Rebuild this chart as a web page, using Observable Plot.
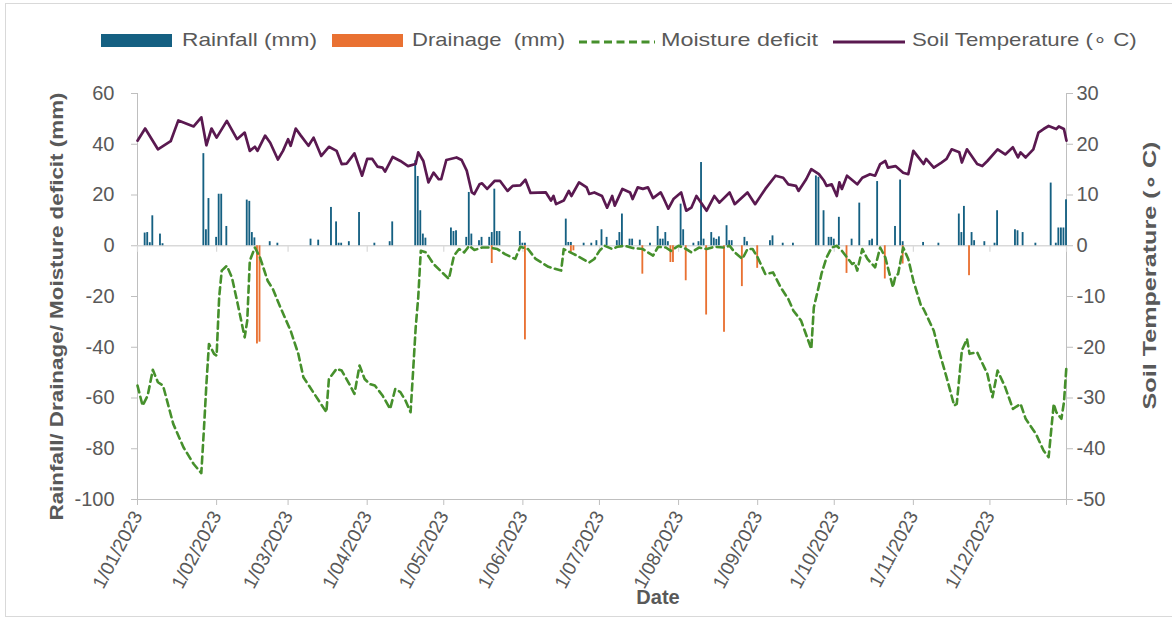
<!DOCTYPE html>
<html>
<head>
<meta charset="utf-8">
<script src="https://cdn.jsdelivr.net/npm/d3@7"></script>
<script src="https://cdn.jsdelivr.net/npm/@observablehq/plot@0.6"></script>
<style>
  html, body { margin: 0; padding: 0; background: #fff; overflow: hidden; }
  #wrap { position: relative; width: 1172px; height: 621px; overflow: hidden; }
  #frame { position: absolute; left: 5px; top: 3px; width: 1180px; height: 612px; border: 1px solid #d9d9d9; pointer-events: none; }
  .leg { position: absolute; font-family: "Liberation Sans", Arial, sans-serif; font-size: 19px; color: #595959; white-space: pre; line-height: 1; transform-origin: 0 50%; }
  .sw { position: absolute; }
</style>
</head>
<body>
<div id="wrap"><div id="frame"></div></div>
<script>
// ---- data (day offset from 1 Jan 2023, value) ----
const rainDay = [3,4,5,6,9,10,26,27,28,31,32,33,35,43,44,45,46,52,55,68,71,76,78,79,80,83,87,
  93,99,100,109,110,111,112,113,123,124,125,129,130,131,134,135,138,139,140,141,142,150,151,152,
  168,169,170,175,178,180,182,184,188,189,190,193,194,197,201,204,205,206,207,208,213,214,218,220,221,222,
  225,226,227,228,231,232,233,238,239,248,249,253,257,266,267,269,271,272,273,275,280,283,287,288,290,
  297,299,300,308,314,322,323,324,327,328,332,336,337,344,345,347,352,358,360,361,362,363,364];
const rainMm = [5,5.2,1.2,11.8,4.6,0.8,36.3,6.3,18.6,3.3,20.3,20.3,7.6,18,17.5,5.2,3.1,1.6,1,2.6,2.2,15.1,9.4,1,1,1.6,13.1,
  1,1.6,9.4,33.5,27.3,13.8,4.6,3,7,5.6,5.9,3.3,21,4.6,2,3.3,3.3,5.2,22.3,5.6,5.6,5.6,1,1,
  10.5,1.3,1.3,1,1,2,6.3,3.3,2,5.2,12.5,2.6,2.6,2.2,1,7.6,2.6,2.6,5.2,1.6,16.4,6.3,1,1.6,32.8,2.6,
  5.2,3,2.5,3.5,7.9,2,2,3.3,1.6,2,3.9,1,1,27.5,27,13.8,3.3,3.3,2.6,11.2,2.6,16.8,2,2.6,25.3,
  7.6,25.9,1.6,1.3,1,12.5,5.2,15.5,5.2,2,1.6,1,13.8,6.3,5.9,5.2,1,24.7,1,7,7,7,18.1];

const drainDay = [47,48,139,152,170,171,198,209,210,215,223,230,237,243,278,293,300,326];
const drainMm = [-38.7,-38,-7,-37.1,-2.6,-2,-11.2,-6.6,-6.6,-13.8,-27.3,-34.1,-16.1,-8.9,-10.9,-13.1,-7.2,-11.8];

const moistDay = [0,2,4,6,8,10,14,18,22,25,26,27,28,30,31,32,33,35,37,39,42,43,44,46,48,51,53,56,60,63,65,71,74,75,78,80,83,85,87,
  89,91,93,96,99,101,103,105,107,108,109,110,111,113,116,122,124,126,128,130,132,135,138,141,144,148,150,153,156,161,166,167,171,
  177,179,181,183,186,188,191,194,198,202,204,207,209,212,215,217,220,223,226,230,232,234,237,239,241,243,246,249,252,255,257,260,
  264,265,267,268,270,272,274,276,278,280,281,282,284,286,289,291,293,296,297,298,300,302,304,307,308,312,314,317,320,321,323,325,
  326,329,333,335,337,340,343,346,348,352,355,357,359,360,362,363,364];
const moistMm = [-55.1,-63,-59,-48.9,-53.8,-55.1,-70.2,-79.4,-86,-89.6,-72.8,-54.5,-38.7,-42.6,-43.3,-20.3,-9.8,-7.9,-12.5,-21.7,-36.1,-29.5,-5.9,-0.7,-4.6,-13.8,-17,-24.3,-33.5,-42.6,-51.8,-61,-65.6,-52.5,-48.5,-49.2,-54.5,-58.4,-47.2,
  -52.5,-54.5,-55.1,-59,-64.3,-56.4,-57.7,-61,-65.6,-49.2,-32.2,-20.3,-2,-2.6,-7.2,-13.1,-3.9,-1.3,-2.6,0,-1.7,-0.7,-0.7,-1.3,-3.3,-5.2,-0.4,-1.3,-5.2,-8.3,-9.8,-1.3,-3.3,
  -6.6,-5.2,-2,0,-1.3,-0.4,0,-0.9,-1.3,-3.9,-0.4,-0.7,-2,0,-1.3,-2.6,-0.7,-1.3,-0.4,-0.7,0,-2.6,-5.2,-1.3,-1.3,-4.6,-11.2,-10.5,-16.4,-21,-25.6,-29.5,
  -40.7,-24.3,-15.7,-11,-4.6,-0.7,0,-2,-4.6,-7.2,-6.6,-9.8,-1.3,-5.2,-8.5,-0.7,-4.6,-16.4,-11.8,-11.2,-0.7,-5.2,-13.8,-23.6,-24.9,-33.5,-41.3,-51.8,-63,-62.3,-41.3,-36.7,
  -42.6,-42,-50.5,-59.7,-49.2,-55.8,-64.3,-62.3,-68.2,-74.1,-80.7,-83.3,-62.3,-65.6,-68.2,-61.7,-47.2];

const tempDay = [0,3,8,13,16,22,25,27,29,31,35,39,42,44,46,47,50,52,55,57,59,60,62,64,67,69,72,75,78,80,82,85,88,90,92,94,96,97,
  100,103,106,109,110,112,114,116,118,119,121,125,127,129,131,132,134,135,137,140,142,145,147,150,152,154,160,162,163,164,167,169,170,
  173,176,177,179,182,184,186,187,190,193,194,196,198,200,202,205,206,208,210,213,215,217,219,223,226,228,232,234,239,242,246,250,253,
  255,258,259,262,264,267,269,270,272,274,275,276,278,282,284,287,289,291,293,294,297,300,302,304,306,308,309,312,315,317,319,322,323,
  325,329,331,333,337,340,343,345,346,348,351,353,355,357,360,361,363,364];
const tempC = [20.7,23.1,19,20.6,24.7,23.5,25.3,19.8,23.1,21.3,24.6,21,22.3,18.7,19.5,18.7,21.7,20.3,17,18.7,21,19.7,23.1,21.7,19.7,21.3,17.7,19.5,18.7,16.1,16.2,18.2,13.8,17.1,17.1,15.6,15.4,14.6,
  17.5,16.7,15.7,16.1,18.4,16.7,12.5,14.4,13.1,13.1,16.9,17.4,16.9,14.8,10.5,10.2,12.1,12.3,11.2,12.8,12.8,10.8,11.8,11.9,13,10.4,10.5,8.9,9.8,8.2,8.9,10.8,9.8,
  12.5,11.5,10.2,10.5,9.8,7.5,9.8,7.9,11.2,10.5,9.2,11.5,11.2,11.5,9.4,10.5,9.5,7.3,9.2,10.5,6.9,7.5,9.8,6.9,9.8,8.5,10.5,8.2,10.5,8.2,11.2,13.8,13.4,
  12.1,11.8,10.8,13.1,15.1,14.1,12.8,11.8,12.1,9.8,12.5,11.2,13.8,12.1,13.4,14.1,13.8,16.1,16.7,15.4,15.7,14.4,14.1,18.7,17.4,16.1,17.1,15.4,16.4,17.1,19,18.4,16.4,
  19,16.1,15.7,16.7,19,18,19.4,17.4,18.4,17.4,19,22.3,23,23.6,23,23.5,23,20.7];

const xTickLabels = ["1/01/2023","1/02/2023","1/03/2023","1/04/2023","1/05/2023","1/06/2023",
  "1/07/2023","1/08/2023","1/09/2023","1/10/2023","1/11/2023","1/12/2023"];
const yLeftTicks = [-100,-80,-60,-40,-20,0,20,40,60];
const seriesNames = ["Rainfall (mm)", "Drainage  (mm)", "Moisture deficit", "Soil Temperature (\u2218 C)"];
const axisTitles = {left: "Rainfall/ Drainage/ Moisture deficit (mm)", right: "Soil Temperature (\u2218 C)", x: "Date"};
const colors = {rain: "#156082", drain: "#E97132", moist: "#46902c", temp: "#5a1950"};

// ---- helpers ----
const DAY = 864e5;
const t0 = Date.UTC(2023, 0, 1);
const dayToDate = d => new Date(t0 + d * DAY);
const parseLabel = s => { const [d, m, y] = s.split("/").map(Number); return new Date(Date.UTC(y, m - 1, d)); };
const tickDates = xTickLabels.map(parseLabel);
const xEnd = dayToDate(364);
const fmt = new Map(tickDates.map((d, i) => [+d, xTickLabels[i]]));

const rain = rainDay.map((d, i) => ({x1: dayToDate(d - 0.36), x2: dayToDate(d + 0.36), v: rainMm[i]}));
const drain = drainDay.map((d, i) => ({x1: dayToDate(d - 0.36), x2: dayToDate(d + 0.36), v: drainMm[i]}));
const moist = moistDay.map((d, i) => ({x: dayToDate(d), v: moistMm[i]}));
const temp = tempDay.map((d, i) => ({x: dayToDate(d), v: tempC[i]}));

const axisGray = "#bfbfbf";
const textGray = "#595959";

const chart = Plot.plot({
  width: 1172,
  height: 621,
  marginLeft: 137,
  marginRight: 106,
  marginTop: 93,
  marginBottom: 122,
  style: {fontFamily: "'Liberation Sans', Arial, sans-serif", fontSize: "16px", color: textGray, background: "transparent"},
  x: {type: "utc", domain: [dayToDate(0), xEnd]},
  y: {domain: [-100, 60]},
  marks: [
    Plot.ruleY([0], {stroke: "#d9d9d9", strokeWidth: 1.5}),
    Plot.ruleY([-100], {stroke: axisGray, strokeWidth: 1}),
    Plot.ruleX([dayToDate(0), xEnd], {stroke: axisGray, strokeWidth: 1}),
    Plot.ruleX([...tickDates, xEnd], {y1: 0, y2: -2.6, stroke: "#d9d9d9", strokeWidth: 1.2}),
    Plot.rectY(rain, {x1: "x1", x2: "x2", y: "v", fill: colors.rain}),
    Plot.rectY(drain, {x1: "x1", x2: "x2", y: "v", fill: colors.drain}),
    Plot.line(moist, {x: "x", y: "v", stroke: colors.moist, strokeWidth: 2.6, strokeDasharray: "7,4.5"}),
    Plot.line(temp, {x: "x", y: d => d.v * 2, stroke: colors.temp, strokeWidth: 2.7}),
    Plot.axisY({anchor: "left", ticks: yLeftTicks, tickFormat: d => String(d), tickSize: 6, tickPadding: 17, stroke: axisGray, fill: textGray, fontSize: 20, label: null}),
    Plot.axisY({anchor: "right", ticks: yLeftTicks, tickFormat: d => String(d / 2), tickSize: 6, tickPadding: 4, stroke: axisGray, fill: textGray, fontSize: 20, label: null}),
    Plot.axisX({anchor: "bottom", ticks: [...tickDates, xEnd], tickFormat: () => "", tickSize: 6, stroke: axisGray, label: null}),
    Plot.axisX({anchor: "bottom", ticks: tickDates, tickFormat: d => fmt.get(+d), tickSize: 0, tickPadding: 13, tickRotate: -62, fill: textGray, fontSize: 19, label: null}),
    Plot.text([axisTitles.left], {frameAnchor: "left", dx: -80, dy: 10, rotate: -90, textAnchor: "middle", fontWeight: "bold", fontSize: 18, fill: textGray}),
    Plot.text([axisTitles.right], {frameAnchor: "right", dx: 84, dy: -21, rotate: -90, textAnchor: "middle", fontWeight: "bold", fontSize: 18, fill: textGray}),
    Plot.text([axisTitles.x], {frameAnchor: "bottom", dx: 56, dy: 104, textAnchor: "middle", fontWeight: "bold", fontSize: 20, fill: textGray})
  ]
});

// fit the two rotated axis titles to the lengths seen in the reference
for (const t of chart.querySelectorAll("text")) {
  if (t.textContent === axisTitles.left) { t.setAttribute("textLength", 428); t.setAttribute("lengthAdjust", "spacingAndGlyphs"); }
  if (t.textContent === axisTitles.right) { t.setAttribute("textLength", 268); t.setAttribute("lengthAdjust", "spacingAndGlyphs"); }
}

const wrap = document.getElementById("wrap");
wrap.insertBefore(chart, wrap.firstChild);
chart.style.position = "absolute";
chart.style.left = "0px";
chart.style.top = "0px";

// ---- legend (HTML, above the plot area) ----
const legendItems = [
  {name: seriesNames[0], kind: "box", color: colors.rain, sx: 101, sw: 71, tx: 182, tw: 135},
  {name: seriesNames[1], kind: "box", color: colors.drain, sx: 332, sw: 71, tx: 412, tw: 153},
  {name: seriesNames[2], kind: "dash", color: colors.moist, sx: 579, sw: 76, tx: 661, tw: 157},
  {name: seriesNames[3], kind: "line", color: colors.temp, sx: 833, sw: 72, tx: 912, tw: 225}
];
const cv = document.createElement("canvas").getContext("2d");
cv.font = "19px 'Liberation Sans', Arial, sans-serif";
const legY = 40;
for (const it of legendItems) {
  if (it.kind === "box") {
    const b = document.createElement("div");
    b.className = "sw";
    Object.assign(b.style, {left: it.sx + "px", top: (legY - 6) + "px", width: it.sw + "px", height: "13px", background: it.color});
    wrap.appendChild(b);
  } else {
    const ns = "http://www.w3.org/2000/svg";
    const s = document.createElementNS(ns, "svg");
    s.setAttribute("width", it.sw); s.setAttribute("height", 8);
    s.style.position = "absolute"; s.style.left = it.sx + "px"; s.style.top = (legY - 2) + "px";
    const l = document.createElementNS(ns, "line");
    l.setAttribute("x1", 0); l.setAttribute("x2", it.sw); l.setAttribute("y1", 4); l.setAttribute("y2", 4);
    l.setAttribute("stroke", it.color); l.setAttribute("stroke-width", 3);
    if (it.kind === "dash") l.setAttribute("stroke-dasharray", "8,4.5");
    s.appendChild(l);
    wrap.appendChild(s);
  }
  const t = document.createElement("div");
  t.className = "leg";
  t.textContent = it.name;
  const w = cv.measureText(it.name).width || it.tw;
  Object.assign(t.style, {left: it.tx + "px", top: (legY - 10) + "px", transform: `scaleX(${it.tw / w})`});
  wrap.appendChild(t);
}
</script>
</body>
</html>
